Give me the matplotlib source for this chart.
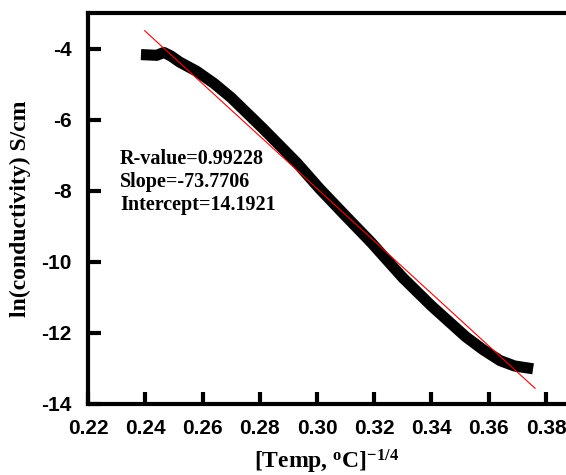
import numpy as np
import matplotlib
matplotlib.use('Agg')
import matplotlib.pyplot as plt

# measured ln(conductivity) vs T^-1/4
temp_x = [0.2385, 0.2440, 0.2465, 0.2490, 0.2520, 0.2580, 0.2640, 0.2700,
          0.2810, 0.2930, 0.3010, 0.3100, 0.3190, 0.3300, 0.3400, 0.3520,
          0.3580, 0.3640, 0.3690, 0.3755]
ln_cond = [-4.17, -4.19, -4.11, -4.21, -4.38, -4.64, -4.98, -5.38,
           -6.24, -7.22, -7.95, -8.71, -9.46, -10.45, -11.24, -12.11,
           -12.47, -12.78, -12.93, -13.01]

# linear fit parameters
r_value = 0.99228
slope = -73.7706
intercept = 14.1921
fit_range = [0.2398, 0.3762]

x_ticks = [0.22, 0.24, 0.26, 0.28, 0.30, 0.32, 0.34, 0.36, 0.38]
y_ticks = [-4, -6, -8, -10, -12, -14]

plt.rcParams['mathtext.fontset'] = 'custom'
plt.rcParams['mathtext.rm'] = 'Liberation Serif:bold'
plt.rcParams['mathtext.bf'] = 'Liberation Serif:bold'
plt.rcParams['mathtext.it'] = 'Liberation Serif:bold'

fig = plt.figure(figsize=(5.66, 4.75), dpi=100)
ax = fig.add_axes([0.1555, 0.1495, 0.8445, 0.8231])

ax.plot(temp_x, ln_cond, color='black', lw=8, solid_capstyle='butt', solid_joinstyle='round')
fx = np.array(fit_range)
ax.plot(fx, intercept + slope * fx, color='red', lw=0.8)

ax.set_xlim(0.22, 0.387)
ax.set_ylim(-14, -3)
ax.set_xticks(x_ticks)
ax.set_xticklabels([f'{v:.2f}' for v in x_ticks])
ax.set_yticks(y_ticks)
ax.set_yticklabels([str(v) for v in y_ticks])

for s in ['left', 'bottom', 'top']:
    ax.spines[s].set_linewidth(3)
ax.spines['right'].set_visible(False)
ax.tick_params(direction='in', length=9, width=3)
ax.tick_params(axis='x', pad=11)
ax.tick_params(axis='y', pad=12)
for lab in ax.get_xticklabels() + ax.get_yticklabels():
    lab.set_fontfamily('Liberation Sans')
    lab.set_fontweight('bold')
    lab.set_fontsize(15)

ax.set_xlabel(r'[Temp, $^{\mathrm{o}}$C]$^{-1/4}$', fontfamily='Liberation Serif',
              fontweight='bold', fontsize=17, labelpad=7)
ax.set_ylabel('ln(conductivity) S/cm', fontfamily='Liberation Serif',
              fontweight='bold', fontsize=17, labelpad=7)

txt = f'R-value={r_value}\nSlope={slope}\nIntercept={intercept}'
ax.text(0.067, 0.653, txt, transform=ax.transAxes, fontfamily='Liberation Serif',
        fontweight='bold', fontsize=14.5, va='top', ha='left', linespacing=1.22)

fig.savefig('out.png', dpi=100)
